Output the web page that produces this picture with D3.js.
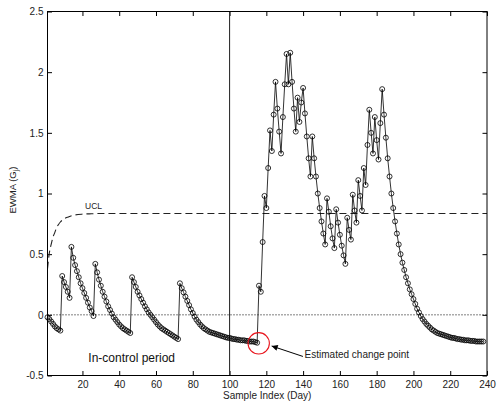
<!DOCTYPE html>
<html>
<head>
<meta charset="utf-8">
<script src="https://cdn.jsdelivr.net/npm/d3@7"></script>
<style>
  body { margin: 0; background: #fff; }
  svg { display: block; font-family: "Liberation Sans", Arial, Helvetica, sans-serif; }
</style>
</head>
<body>
<div id="chart"></div>
<script>
// EWMA values, samples 1..115 (in-control period)
var inControl = [
  -0.02, -0.035, -0.055, -0.075, -0.095, -0.11, -0.12, -0.13,
  0.32, 0.27, 0.23, 0.19, 0.14, 0.56,
  0.47, 0.41, 0.36, 0.31, 0.26, 0.22, 0.18, 0.14, 0.10, 0.06, 0.03, -0.01,
  0.42, 0.35, 0.29, 0.24, 0.19, 0.15, 0.11, 0.07, 0.04, 0.01, -0.02, -0.04, -0.06, -0.08,
  -0.095, -0.11, -0.12, -0.13, -0.14, -0.15,
  0.31, 0.27, 0.23, 0.19, 0.16, 0.13, 0.10, 0.07, 0.045, 0.02, 0.0, -0.02, -0.04, -0.06,
  -0.08, -0.095, -0.11, -0.12, -0.13, -0.14, -0.15, -0.16, -0.17, -0.18, -0.19, -0.20,
  0.26, 0.22, 0.185, 0.15, 0.115, 0.08, 0.045, 0.015, -0.015, -0.04, -0.06, -0.08, -0.095,
  -0.11, -0.12, -0.13, -0.14, -0.145, -0.15, -0.155, -0.16, -0.165, -0.17, -0.175, -0.18,
  -0.185, -0.19, -0.19, -0.195, -0.20, -0.20, -0.205, -0.205, -0.21, -0.21, -0.21, -0.215,
  -0.215, -0.22, -0.22, -0.22, -0.225, -0.23
];
// EWMA values, samples 116..238 (after the change)
var afterChange = [
  0.24, 0.19, 0.60, 0.98, 0.88, 1.21, 1.52, 1.35, 1.65, 1.92, 1.70, 1.51, 1.33, 1.63,
  1.90, 2.15, 1.90, 2.16, 1.92, 1.70, 1.51, 1.79, 1.59, 1.75, 1.87, 1.66, 1.47, 1.29,
  1.14, 1.47, 1.29, 1.14, 1.00, 0.88, 0.77, 0.67, 0.58,
  0.96, 0.85, 0.73, 0.63, 0.55, 0.87, 0.76, 0.66, 0.57, 0.49, 0.42, 0.80, 0.70, 0.62,
  0.99, 0.86, 0.76, 1.11, 0.98, 0.86, 1.21, 1.07, 1.40, 1.69, 1.50, 1.33, 1.63, 1.44,
  1.28, 1.58, 1.86,
  1.65, 1.46, 1.29, 1.14, 1.00, 0.88, 0.77, 0.67, 0.58, 0.50, 0.43, 0.37, 0.31, 0.26,
  0.21, 0.17, 0.13, 0.09, 0.05, 0.02, -0.01, -0.035, -0.055, -0.075, -0.09, -0.105,
  -0.12, -0.13, -0.14, -0.15, -0.155, -0.16, -0.165, -0.17, -0.175, -0.18, -0.185,
  -0.19, -0.19, -0.195, -0.20, -0.20, -0.205, -0.205, -0.21, -0.21, -0.21, -0.215,
  -0.215, -0.215, -0.22, -0.22, -0.22, -0.22, -0.22
];
// upper control limit
var uclIdx = [1, 2, 3, 4, 5, 6, 7, 8, 10, 12, 15, 20, 25, 30, 240];
var uclVal = [0.38, 0.51, 0.58, 0.64, 0.68, 0.72, 0.745, 0.765, 0.79, 0.805, 0.82, 0.83, 0.833, 0.835, 0.835];

var xTicks = [20, 40, 60, 80, 100, 120, 140, 160, 180, 200, 220, 240];
var yTicks = [-0.5, 0, 0.5, 1, 1.5, 2, 2.5];
var splitDay = 100;
var changePoint = { x: 115.85, y: -0.235 };

var W = 497, H = 402;
// plot box edges (pixels)
var padL = 47.5, padR = 487, padT = 11.5, padB = 375.5;

var ewma = inControl.concat(afterChange);
var points = ewma.map(function (v, i) { return { i: i + 1, v: v }; });
console.log(inControl.length, afterChange.length, ewma.length);

var svg = d3.select("#chart").append("svg").attr("width", W).attr("height", H);

var x = d3.scaleLinear().domain([1, 240]).range([padL, padR]);
var y = d3.scaleLinear().domain([-0.5, 2.5]).range([padB, padT]);

// axes, ticks pointing inward like matlab
var gx = svg.append("g").attr("transform", "translate(0," + padB + ")")
  .call(d3.axisBottom(x).tickValues(xTicks).tickSizeInner(-4.5).tickSizeOuter(0).tickPadding(5));
var gy = svg.append("g").attr("transform", "translate(" + padL + ",0)")
  .call(d3.axisLeft(y).tickValues(yTicks).tickSizeInner(-4.5).tickSizeOuter(0).tickPadding(4)
    .tickFormat(function (d) { return String(d); }));
var gt = svg.append("g").attr("transform", "translate(0," + padT + ")")
  .call(d3.axisTop(x).tickValues(xTicks).tickSizeInner(-4.5).tickSizeOuter(0).tickFormat(""));
var gr = svg.append("g").attr("transform", "translate(" + padR + ",0)")
  .call(d3.axisRight(y).tickValues(yTicks).tickSizeInner(-4.5).tickSizeOuter(0).tickFormat(""));

[gx, gy, gt, gr].forEach(function (g) {
  g.select(".domain").remove();
  g.selectAll(".tick line").attr("stroke", "#000");
  g.selectAll("text").attr("font-size", "10px").attr("fill", "#222")
    .attr("font-family", "Liberation Sans, Arial, sans-serif");
});

// zero line (dotted)
svg.append("line")
  .attr("x1", x(1)).attr("x2", x(240)).attr("y1", y(0)).attr("y2", y(0))
  .attr("stroke", "#000").attr("stroke-width", 1).attr("stroke-dasharray", "1,2");

// UCL dashed
var uclLine = d3.line()
  .x(function (d) { return x(d[0]); })
  .y(function (d) { return y(d[1]); })
  .curve(d3.curveMonotoneX);
svg.append("path")
  .datum(d3.zip(uclIdx, uclVal))
  .attr("d", uclLine)
  .attr("fill", "none").attr("stroke", "#222").attr("stroke-width", 1.1)
  .attr("stroke-dasharray", "7,4");

svg.append("text").attr("x", x(21.4)).attr("y", y(0.87))
  .attr("font-size", "8.5px").attr("fill", "#222").text("UCL");

// split between phases
svg.append("line")
  .attr("x1", x(splitDay)).attr("x2", x(splitDay)).attr("y1", y(-0.5)).attr("y2", y(2.5))
  .attr("stroke", "#333").attr("stroke-width", 1.1);

// the EWMA series
var line = d3.line()
  .x(function (d) { return x(d.i); })
  .y(function (d) { return y(d.v); });
svg.append("path").datum(points).attr("d", line)
  .attr("fill", "none").attr("stroke", "#000").attr("stroke-width", 0.8);

svg.selectAll(".pt").data(points).enter().append("circle")
  .attr("class", "pt")
  .attr("cx", function (d) { return x(d.i); })
  .attr("cy", function (d) { return y(d.v); })
  .attr("r", 2.5)
  .attr("fill", "none").attr("stroke", "#000").attr("stroke-width", 0.8);

// annotations
svg.append("circle").attr("cx", x(changePoint.x)).attr("cy", y(changePoint.y))
  .attr("r", 10.7).attr("fill", "none").attr("stroke", "#e8141c").attr("stroke-width", 1.1);

svg.append("defs").append("marker")
  .attr("id", "head").attr("viewBox", "0 0 10 10").attr("refX", 10).attr("refY", 5)
  .attr("markerWidth", 8).attr("markerHeight", 6).attr("markerUnits", "userSpaceOnUse")
  .attr("orient", "auto")
  .append("path").attr("d", "M0,0L10,5L0,10z").attr("fill", "#000");

svg.append("line")
  .attr("x1", x(139.9)).attr("y1", y(-0.343))
  .attr("x2", x(122.9)).attr("y2", y(-0.257))
  .attr("stroke", "#000").attr("stroke-width", 1)
  .attr("marker-end", "url(#head)");

svg.append("text").attr("x", x(140.8)).attr("y", y(-0.352))
  .attr("font-size", "10px").attr("fill", "#222").text("Estimated change point");

svg.append("text").attr("x", x(23.2)).attr("y", y(-0.391))
  .attr("font-size", "12px").attr("fill", "#111").text("In-control period");

// axis labels
svg.append("text").attr("x", (padL + padR) / 2).attr("y", 399)
  .attr("text-anchor", "middle").attr("font-size", "10px").attr("fill", "#222")
  .text("Sample Index (Day)");

var yl = svg.append("text")
  .attr("transform", "translate(15.5,190) rotate(-90)")
  .attr("text-anchor", "middle").attr("font-size", "9.5px").attr("fill", "#222");
yl.append("tspan").text("EWMA (G");
yl.append("tspan").attr("font-size", "7px").attr("dy", "2").text("j");
yl.append("tspan").attr("dy", "-2").text(")");

// frame
svg.append("rect").attr("x", padL).attr("y", padT)
  .attr("width", padR - padL).attr("height", padB - padT)
  .attr("fill", "none").attr("stroke", "#000").attr("stroke-width", 1);
</script>
</body>
</html>
